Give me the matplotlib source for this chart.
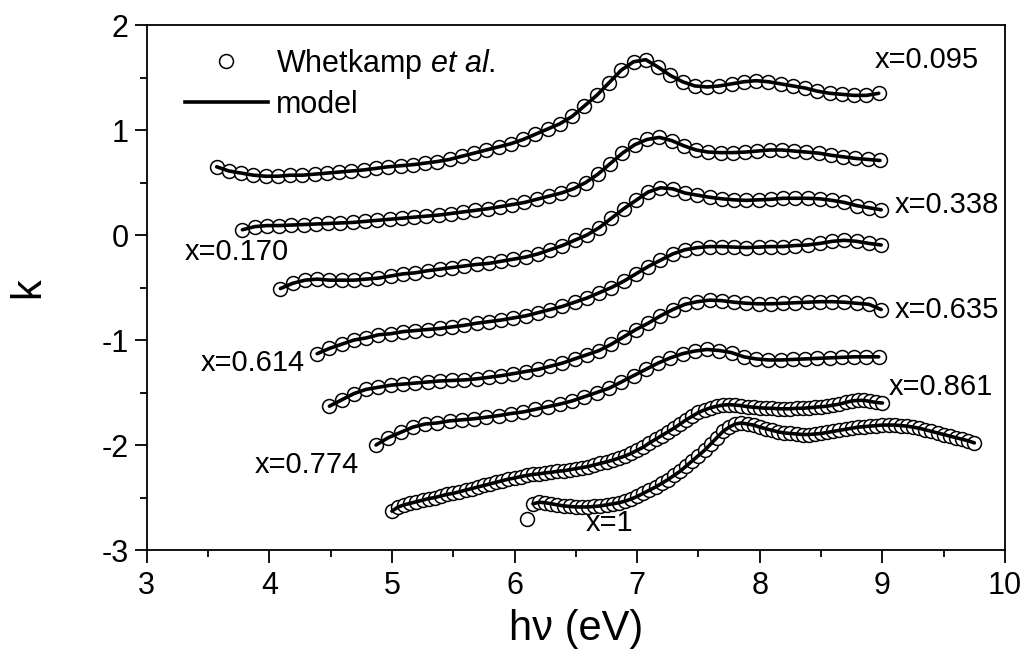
import numpy as np
import matplotlib
matplotlib.use("Agg")
import matplotlib.pyplot as plt
from matplotlib.lines import Line2D

plt.rcParams['font.family'] = ['Liberation Sans', 'DejaVu Sans']
plt.rcParams['mathtext.fontset'] = 'custom'
plt.rcParams['mathtext.rm'] = 'Liberation Sans'
plt.rcParams['mathtext.it'] = 'Liberation Sans:italic'
plt.rcParams['axes.unicode_minus'] = False

# ---------------- data (k vs photon energy) ----------------
# each series: start energy, energy step, k values
start_095, step_095 = 3.57, 0.1
k_095 = [0.65, 0.61, 0.59, 0.57, 0.56, 0.56, 0.57, 0.57, 0.58, 0.59,
         0.60, 0.61, 0.62, 0.635, 0.65, 0.66, 0.67, 0.685, 0.70, 0.72,
         0.75, 0.78, 0.81, 0.84, 0.87, 0.91, 0.96, 1.01, 1.06, 1.13,
         1.23, 1.33, 1.45, 1.57, 1.65, 1.67, 1.60, 1.52, 1.46, 1.42,
         1.41, 1.42, 1.44, 1.46, 1.47, 1.46, 1.44, 1.42, 1.40, 1.37,
         1.35, 1.34, 1.33, 1.33, 1.35]

start_170, step_170 = 3.78, 0.1
k_170 = [0.05, 0.08, 0.09, 0.09, 0.095, 0.10, 0.105, 0.11, 0.115, 0.12,
         0.13, 0.14, 0.15, 0.16, 0.17, 0.18, 0.19, 0.205, 0.22, 0.235,
         0.25, 0.27, 0.29, 0.31, 0.34, 0.37, 0.40, 0.44, 0.50, 0.58,
         0.68, 0.78, 0.86, 0.91, 0.93, 0.90, 0.85, 0.81, 0.79, 0.785,
         0.785, 0.79, 0.80, 0.81, 0.81, 0.80, 0.79, 0.78, 0.76, 0.745,
         0.73, 0.72, 0.71]

start_338, step_338 = 4.09, 0.1
k_338 = [-0.51, -0.46, -0.43, -0.42, -0.43, -0.43, -0.43, -0.42, -0.41, -0.39,
         -0.37, -0.36, -0.34, -0.325, -0.31, -0.295, -0.28, -0.27, -0.25, -0.23,
         -0.21, -0.18, -0.14, -0.10, -0.05, 0.00, 0.07, 0.16, 0.25, 0.33,
         0.41, 0.45, 0.44, 0.40, 0.38, 0.36, 0.345, 0.335, 0.33, 0.335,
         0.34, 0.35, 0.35, 0.35, 0.345, 0.33, 0.31, 0.28, 0.26, 0.24]

start_614, step_614 = 4.39, 0.1
k_614 = [-1.13, -1.08, -1.04, -1.00, -0.98, -0.95, -0.94, -0.92, -0.91, -0.90,
         -0.89, -0.875, -0.86, -0.84, -0.825, -0.81, -0.79, -0.77, -0.74, -0.71,
         -0.68, -0.64, -0.60, -0.55, -0.50, -0.44, -0.37, -0.30, -0.24, -0.18,
         -0.14, -0.12, -0.11, -0.11, -0.115, -0.12, -0.115, -0.11, -0.11, -0.10,
         -0.095, -0.08, -0.06, -0.05, -0.06, -0.08, -0.095]

start_635, step_635 = 4.49, 0.1
k_635 = [-1.63, -1.57, -1.51, -1.47, -1.45, -1.43, -1.42, -1.41, -1.40, -1.39,
         -1.385, -1.38, -1.37, -1.355, -1.34, -1.32, -1.30, -1.28, -1.25, -1.22,
         -1.18, -1.14, -1.10, -1.04, -0.97, -0.90, -0.84, -0.77, -0.71, -0.66,
         -0.635, -0.62, -0.625, -0.64, -0.65, -0.655, -0.655, -0.65, -0.645, -0.64,
         -0.635, -0.635, -0.64, -0.65, -0.66, -0.71]

start_774, step_774 = 4.87, 0.1
k_774 = [-2.00, -1.93, -1.88, -1.83, -1.80, -1.79, -1.77, -1.76, -1.75, -1.735,
         -1.72, -1.70, -1.685, -1.66, -1.635, -1.61, -1.58, -1.54, -1.50, -1.46,
         -1.40, -1.34, -1.28, -1.22, -1.17, -1.13, -1.105, -1.09, -1.10, -1.12,
         -1.16, -1.18, -1.19, -1.19, -1.185, -1.18, -1.175, -1.17, -1.165, -1.16,
         -1.16, -1.16]

start_861, step_861 = 5.00, 0.05
k_861 = [-2.63, -2.59, -2.57, -2.555, -2.54, -2.525, -2.51, -2.50, -2.485, -2.47,
         -2.46, -2.445, -2.43, -2.415, -2.40, -2.385, -2.37, -2.355, -2.34, -2.325,
         -2.315, -2.30, -2.29, -2.28, -2.275, -2.265, -2.26, -2.25, -2.245, -2.235,
         -2.225, -2.215, -2.205, -2.19, -2.175, -2.16, -2.145, -2.125, -2.105, -2.08,
         -2.05, -2.02, -1.98, -1.945, -1.91, -1.875, -1.84, -1.80, -1.76, -1.725,
         -1.69, -1.665, -1.645, -1.63, -1.62, -1.615, -1.62, -1.625, -1.635, -1.64,
         -1.645, -1.65, -1.65, -1.655, -1.655, -1.655, -1.65, -1.65, -1.645, -1.64,
         -1.635, -1.63, -1.62, -1.61, -1.595, -1.58, -1.575, -1.575, -1.585, -1.595,
         -1.60]

start_1, step_1 = 6.10, 0.05
k_1 = [-2.70, -2.56, -2.545, -2.55, -2.56, -2.57, -2.58, -2.585, -2.59, -2.59,
       -2.59, -2.585, -2.58, -2.57, -2.56, -2.55, -2.535, -2.515, -2.49, -2.46,
       -2.43, -2.40, -2.365, -2.33, -2.29, -2.25, -2.20, -2.15, -2.10, -2.05,
       -1.99, -1.93, -1.87, -1.83, -1.80, -1.79, -1.80, -1.81, -1.83, -1.845,
       -1.86, -1.875, -1.885, -1.89, -1.895, -1.90, -1.90, -1.895, -1.89, -1.88,
       -1.87, -1.86, -1.85, -1.84, -1.83, -1.825, -1.82, -1.815, -1.81, -1.81,
       -1.81, -1.815, -1.82, -1.83, -1.84, -1.855, -1.87, -1.885, -1.90, -1.915,
       -1.93, -1.945, -1.96, -1.98]

series = [
    (start_095, step_095, k_095, 0),
    (start_170, step_170, k_170, 0),
    (start_338, step_338, k_338, 0),
    (start_614, step_614, k_614, 0),
    (start_635, step_635, k_635, 0),
    (start_774, step_774, k_774, 0),
    (start_861, step_861, k_861, 0),
    (start_1, step_1, k_1, 1),   # model starts after the first (outlying) point
]

labels = ["x=0.095", "x=0.170", "x=0.338", "x=0.614",
          "x=0.635", "x=0.774", "x=0.861", "x=1"]
label_pos = [(8.94, 1.667), (3.31, -0.16), (9.10, 0.286), (3.44, -1.22),
             (9.10, -0.714), (3.88, -2.19), (9.05, -1.444), (6.58, -2.746)]

x_ticks = [3, 4, 5, 6, 7, 8, 9, 10]
y_ticks = [-3, -2, -1, 0, 1, 2]

# ---------------- figure ----------------
fig = plt.figure(figsize=(10.29, 6.59), dpi=100)
ax = fig.add_axes([0.1426, 0.1654, 0.8341, 0.7966])

MS = 10.0
for start, step, k, skip in series:
    k = np.asarray(k)
    e = start + step * np.arange(len(k))
    ax.plot(e, k, linestyle='none', marker='o', ms=MS, mfc='white',
            mec='black', mew=1.1, zorder=2)
    ax.plot(e[skip:], k[skip:], color='black', lw=2.6, zorder=3,
            solid_capstyle='round')

for txt, (lx, ly) in zip(labels, label_pos):
    ax.text(lx, ly, txt, fontsize=21, ha='left', va='center')

handles = [Line2D([], [], linestyle='none', marker='o', ms=MS, mfc='white',
                  mec='black', mew=1.1),
           Line2D([], [], color='black', lw=2.6)]
ax.legend(handles, ["Whetkamp $\\it{et\\ al.}$", "model"], loc='upper left',
          bbox_to_anchor=(0.0446, 0.958), frameon=False, fontsize=22,
          handlelength=2.7, handletextpad=0.28, labelspacing=0.28,
          borderpad=0, borderaxespad=0)

ax.set_xlim(3, 10)
ax.set_ylim(-3, 2)
ax.set_xticks(x_ticks)
ax.set_yticks(y_ticks)
ax.set_xticks(np.arange(3.5, 10, 1.0), minor=True)
ax.set_yticks(np.arange(-2.5, 2, 1.0), minor=True)
ax.tick_params(which='major', direction='out', length=9, width=1.3,
               labelsize=22, pad=4)
ax.tick_params(which='minor', direction='out', length=5, width=1.3)
ax.tick_params(axis='x', which='major', pad=6)
ax.tick_params(top=False, right=False)
for s in ax.spines.values():
    s.set_linewidth(1.3)

ax.set_xlabel("h\u03bd (eV)", fontsize=30, labelpad=6)
ax.set_ylabel("k", fontsize=30, labelpad=38)

fig.savefig("out.png", dpi=100)
